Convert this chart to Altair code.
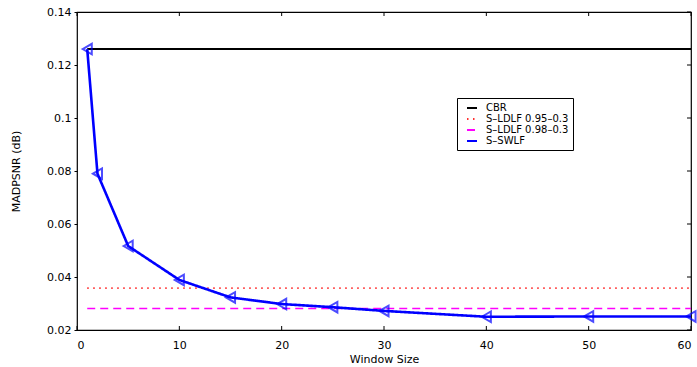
import altair as alt
import pandas as pd

# Window sizes and the S-SWLF curve
window = [1, 2, 5, 10, 15, 20, 25, 30, 40, 50, 60]
swlf = [0.126, 0.079, 0.0517, 0.0389, 0.0323, 0.0298, 0.0286, 0.0272, 0.0250, 0.0251, 0.0251]

# Constant reference levels
cbr_level = 0.126
ldlf95_level = 0.0358
ldlf98_level = 0.0281
flat_span = [1, 60]

series_names = ["CBR", "S–LDLF 0.95–0.3", "S–LDLF 0.98–0.3", "S–SWLF"]
series_colors = ["#000000", "#ff3030", "#ff00ff", "#0000ff"]
series_dashes = [[1, 0], [1.5, 4.5], [8, 5], [1, 0]]

x_ticks = [0, 10, 20, 30, 40, 50, 60]
y_ticks = [0.02, 0.04, 0.06, 0.08, 0.10, 0.12, 0.14]

rows = []
for lvl, name in zip([cbr_level, ldlf95_level, ldlf98_level], series_names[:3]):
    for w in flat_span:
        rows.append({"series": name, "window": w, "value": lvl})
for w, v in zip(window, swlf):
    rows.append({"series": series_names[3], "window": w, "value": v})
df = pd.DataFrame(rows)
swlf_df = pd.DataFrame({"window": window, "value": swlf})

FONT = "DejaVu Sans"
W, H = 614, 318

x_enc = alt.X("window:Q", scale=alt.Scale(domain=[0, 60], nice=False),
              axis=alt.Axis(title="Window Size", values=x_ticks, tickSize=0,
                            labelPadding=9, titlePadding=3, domain=False, grid=False))
y_enc = alt.Y("value:Q", scale=alt.Scale(domain=[0.02, 0.14], nice=False, zero=False),
              axis=alt.Axis(title="MADPSNR (dB)", values=y_ticks, format=".2~f",
                            tickSize=3, labelPadding=3, titlePadding=25,
                            domain=False, grid=False))

# Line widths: thick for S-SWLF, medium for CBR, thinner for the LDLF levels
width_rule = alt.StrokeWidthValue(
    value=1.6,
    condition=[
        {"test": "datum.series === 'S–SWLF'", "value": 2.6},
        {"test": "datum.series === 'CBR'", "value": 2},
    ],
)

lines = alt.Chart(df).mark_line().encode(
    x=x_enc,
    y=y_enc,
    color=alt.Color("series:N", sort=series_names,
                    scale=alt.Scale(domain=series_names, range=series_colors),
                    legend=alt.Legend(title=None, orient="none", legendX=380, legendY=86,
                                      strokeColor="black", fillColor="white",
                                      padding=4, rowPadding=-2, symbolType="stroke",
                                      symbolSize=100, symbolStrokeWidth=2,
                                      labelFont=FONT, labelFontSize=10, labelOffset=8,
                                      labelColor="black", symbolOffset=5)),
    strokeDash=alt.StrokeDash("series:N", sort=series_names,
                              scale=alt.Scale(domain=series_names, range=series_dashes)),
    strokeWidth=width_rule,
)

markers = alt.Chart(swlf_df).mark_point(
    shape="triangle-left", filled=False, size=110, strokeWidth=2, color="#0000ff"
).encode(x="window:Q", y="value:Q")

# Inward tick marks along the bottom, top and right edges of the frame
xt = pd.DataFrame({"window": x_ticks})
yt = pd.DataFrame({"value": y_ticks})
tick_style = dict(color="black", strokeWidth=1)
bottom_ticks = alt.Chart(xt).mark_rule(**tick_style).encode(
    x="window:Q", y=alt.value(H), y2=alt.value(H - 4))
top_ticks = alt.Chart(xt).mark_rule(**tick_style).encode(
    x="window:Q", y=alt.value(0), y2=alt.value(4))
right_ticks = alt.Chart(yt).mark_rule(**tick_style).encode(
    y="value:Q", x=alt.value(W), x2=alt.value(W - 4))

chart = alt.layer(lines, markers, bottom_ticks, top_ticks, right_ticks).properties(
    width=W, height=H,
    autosize=alt.AutoSizeParams(type="none"),
    padding={"left": 77, "top": 12, "right": 6, "bottom": 37},
    background="white",
).configure_view(
    stroke="black", strokeWidth=1.2
).configure_axis(
    labelFont=FONT, titleFont=FONT, labelFontSize=11, titleFontSize=11,
    labelColor="black", titleColor="black", tickColor="black", titleFontWeight="normal"
).configure_legend(
    labelLimit=300
)

chart.save("out.html", embed_options={"renderer": "svg", "actions": False})
